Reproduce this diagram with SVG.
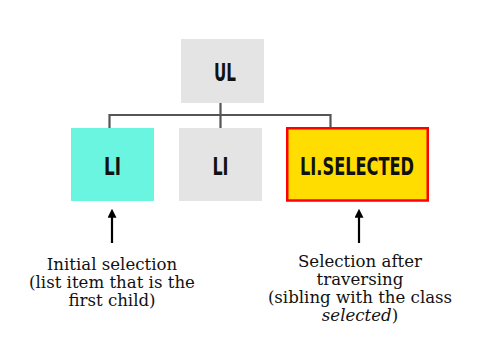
<svg xmlns="http://www.w3.org/2000/svg" width="483" height="342" viewBox="0 0 483 342">
  <defs>
    <style>
      .box { fill: #e4e4e4; }
      .tag { font-family: "DejaVu Sans", "Liberation Sans", sans-serif; font-weight: bold; font-size: 24px; fill: #111; text-anchor: middle; }
      .note { font-family: "DejaVu Serif", "Liberation Serif", serif; font-size: 16.6px; fill: #111; text-anchor: middle; }
      .link { stroke: #555; stroke-width: 2.2; fill: none; }
      .pointer { stroke: #000; stroke-width: 2.2; fill: none; }
    </style>
    <marker id="head" viewBox="0 0 10 10" refX="2" refY="5" markerWidth="9" markerHeight="9" markerUnits="userSpaceOnUse" orient="auto">
      <path d="M0,0 L10,5 L0,10 Z" fill="#000"/>
    </marker>
  </defs>
  <rect width="483" height="342" fill="#fff"/>

  <g id="connectors">
    <path class="link" d="M220.5,103 V115 M109.5,128 V115 H330.5 V128 M220.5,115 V128"/>
  </g>

  <g id="ul">
    <rect class="box" x="181" y="39" width="83" height="64"/>
    <text class="tag" x="225" y="81" textLength="22" lengthAdjust="spacingAndGlyphs">UL</text>
  </g>

  <g id="li-first">
    <rect x="71" y="128" width="83" height="73" fill="#6af5e0"/>
    <text class="tag" x="112.5" y="175" textLength="17" lengthAdjust="spacingAndGlyphs">LI</text>
  </g>

  <g id="li-middle">
    <rect class="box" x="179" y="128" width="83" height="73"/>
    <text class="tag" x="220.5" y="175" textLength="16" lengthAdjust="spacingAndGlyphs">LI</text>
  </g>

  <g id="li-selected">
    <rect x="287.25" y="128.25" width="140.5" height="72.25" fill="#ffdd00" stroke="#ff0000" stroke-width="2.5"/>
    <text class="tag" x="357" y="175" textLength="114" lengthAdjust="spacingAndGlyphs">LI.SELECTED</text>
  </g>

  <g id="pointer-initial">
    <line class="pointer" x1="112" y1="243" x2="112" y2="216" marker-end="url(#head)"/>
    <text class="note" x="112" y="270">Initial selection</text>
    <text class="note" x="112" y="288">(list item that is the</text>
    <text class="note" x="112" y="306">first child)</text>
  </g>

  <g id="pointer-traversed">
    <line class="pointer" x1="359" y1="243" x2="359" y2="216" marker-end="url(#head)"/>
    <text class="note" x="360" y="267">Selection after</text>
    <text class="note" x="360" y="285">traversing</text>
    <text class="note" x="360" y="303">(sibling with the class</text>
    <text class="note" x="360" y="321"><tspan font-style="italic">selected</tspan>)</text>
  </g>
</svg>
